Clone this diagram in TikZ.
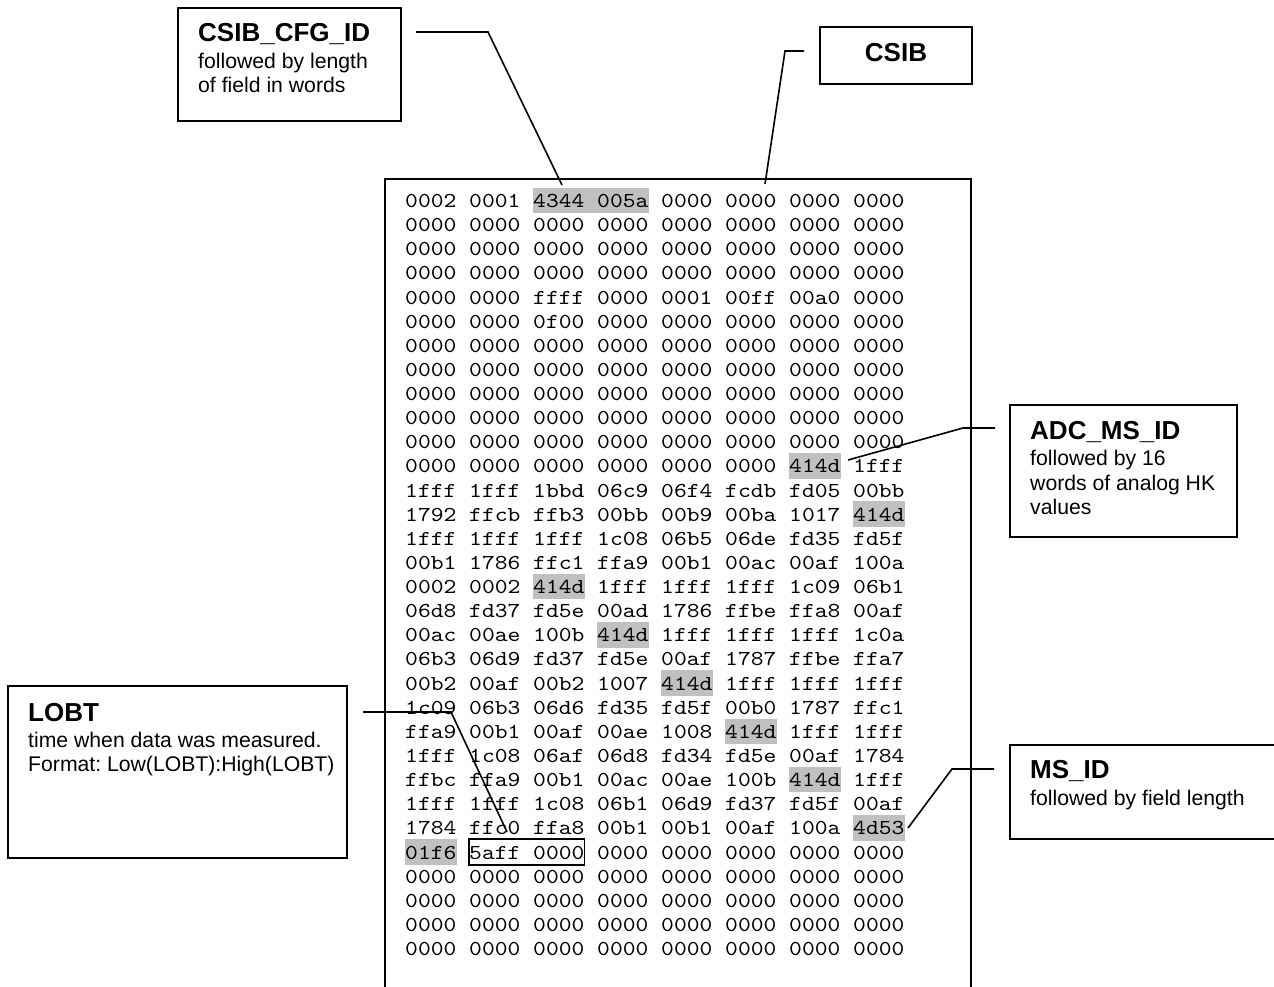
\documentclass[tikz,border=0pt]{standalone}
\usepackage{fontspec}
\setmainfont{Liberation Sans}
\newfontfamily\hexfont{lmmono10-regular.otf}[FakeStretch=1.145]
\usetikzlibrary{backgrounds}
\definecolor{hl}{RGB}{192,192,192}
\frenchspacing
\begin{document}
\begin{tikzpicture}[x=1pt,y=-1pt,
  cbox/.style={draw,line width=1.9pt,inner sep=0pt,rectangle},
  conn/.style={draw,line width=1.6pt},
  title/.style={anchor=base west,inner sep=0pt,font=\fontsize{26}{30}\selectfont\bfseries},
  desc/.style={anchor=base west,inner sep=0pt,font=\fontsize{21.2}{24.4}\selectfont},
  word/.style={anchor=base west,inner sep=0pt,text height=19.5pt,text depth=5.5pt,font=\fontsize{21.3}{24}\hexfont}]
\useasboundingbox (0,0) rectangle (1274,987);

% main frame (bottom lies below the page)
\node[cbox,minimum width=586,minimum height=851] (frame) at (678,604.5) {};

% hex dump
\foreach \rowdata [count=\r] in {
 {0002,0001,4344,005a,0000,0000,0000,0000},
 {0000,0000,0000,0000,0000,0000,0000,0000},
 {0000,0000,0000,0000,0000,0000,0000,0000},
 {0000,0000,0000,0000,0000,0000,0000,0000},
 {0000,0000,ffff,0000,0001,00ff,00a0,0000},
 {0000,0000,0f00,0000,0000,0000,0000,0000},
 {0000,0000,0000,0000,0000,0000,0000,0000},
 {0000,0000,0000,0000,0000,0000,0000,0000},
 {0000,0000,0000,0000,0000,0000,0000,0000},
 {0000,0000,0000,0000,0000,0000,0000,0000},
 {0000,0000,0000,0000,0000,0000,0000,0000},
 {0000,0000,0000,0000,0000,0000,414d,1fff},
 {1fff,1fff,1bbd,06c9,06f4,fcdb,fd05,00bb},
 {1792,ffcb,ffb3,00bb,00b9,00ba,1017,414d},
 {1fff,1fff,1fff,1c08,06b5,06de,fd35,fd5f},
 {00b1,1786,ffc1,ffa9,00b1,00ac,00af,100a},
 {0002,0002,414d,1fff,1fff,1fff,1c09,06b1},
 {06d8,fd37,fd5e,00ad,1786,ffbe,ffa8,00af},
 {00ac,00ae,100b,414d,1fff,1fff,1fff,1c0a},
 {06b3,06d9,fd37,fd5e,00af,1787,ffbe,ffa7},
 {00b2,00af,00b2,1007,414d,1fff,1fff,1fff},
 {1c09,06b3,06d6,fd35,fd5f,00b0,1787,ffc1},
 {ffa9,00b1,00af,00ae,1008,414d,1fff,1fff},
 {1fff,1c08,06af,06d8,fd34,fd5e,00af,1784},
 {ffbc,ffa9,00b1,00ac,00ae,100b,414d,1fff},
 {1fff,1fff,1c08,06b1,06d9,fd37,fd5f,00af},
 {1784,ffc0,ffa8,00b1,00b1,00af,100a,4d53},
 {01f6,5aff,0000,0000,0000,0000,0000,0000},
 {0000,0000,0000,0000,0000,0000,0000,0000},
 {0000,0000,0000,0000,0000,0000,0000,0000},
 {0000,0000,0000,0000,0000,0000,0000,0000},
 {0000,0000,0000,0000,0000,0000,0000,0000}}
{
  \foreach \w [count=\c] in \rowdata {
    \node[word] (w-\r-\c) at ({405+64*(\c-1)},{207.5+24.13*(\r-1)}) {\w};
  }
}

% highlights
\begin{scope}[on background layer]
  \fill[hl] (w-1-3.north west) rectangle (w-1-4.south east);
  \foreach \r/\c in {12/7,14/8,17/3,19/4,21/5,23/6,25/7,27/8,28/1}
    \fill[hl] (w-\r-\c.north west) rectangle (w-\r-\c.south east);
\end{scope}

% LOBT word box
\draw[line width=1.7pt] (w-28-2.north west) rectangle (w-28-3.south east);

% callout boxes
\node[cbox,minimum width=223,minimum height=113] (cfgbox) at (289.5,64.5) {};
\node[title] (cfgtitle) at (198,42) {CSIB\_CFG\_ID};
\node[desc] (cfgdesc1) at (198,69) {followed by length};
\node[desc] (cfgdesc2) at (198,93) {of field in words};

\node[cbox,minimum width=152,minimum height=57] (csibbox) at (896,55.5) {};
\node[inner sep=0pt,anchor=base,font=\fontsize{26}{30}\selectfont\bfseries] (csibtitle) at (896,62) {CSIB};

\node[cbox,minimum width=227,minimum height=132] (adcbox) at (1123.5,471) {};
\node[title] (adctitle) at (1030,439) {ADC\_MS\_ID};
\node[desc] (adcdesc1) at (1030,465) {followed by 16};
\node[desc] (adcdesc2) at (1030,490) {words of analog HK};
\node[desc] (adcdesc3) at (1030,514) {values};

\node[cbox,minimum width=339,minimum height=172] (lobtbox) at (177.5,772) {};
\node[title] (lobttitle) at (28,721) {LOBT};
\node[desc] (lobtdesc1) at (28,747) {time when data was measured.};
\node[desc] (lobtdesc2) at (28,771) {Format: Low(LOBT):High(LOBT)};

\node[cbox,minimum width=290,minimum height=94] (msbox) at (1155,792) {};
\node[title] (mstitle) at (1030,778) {MS\_ID};
\node[desc] (msdesc) at (1030,805) {followed by field length};

% connectors
\coordinate (cfgA) at (416,32);  \coordinate (cfgB) at (488,32);  \coordinate (cfgC) at (562,185);
\coordinate (csA) at (804,51);   \coordinate (csB) at (785,51);   \coordinate (csC) at (765,184);
\coordinate (adA) at (995,428);  \coordinate (adB) at (963,428);  \coordinate (adC) at (848,460);
\coordinate (loA) at (363,712);  \coordinate (loB) at (451,712);  \coordinate (loC) at (507,832);
\coordinate (msA) at (994,769);  \coordinate (msB) at (952,769);  \coordinate (msC) at (908,828);
\draw[conn] (cfgA) -- (cfgB) -- (cfgC);
\draw[conn] (csA) -- (csB) -- (csC);
\draw[conn] (adA) -- (adB) -- (adC);
\draw[conn] (loA) -- (loB) -- (loC);
\draw[conn] (msA) -- (msB) -- (msC);
\end{tikzpicture}
\end{document}
